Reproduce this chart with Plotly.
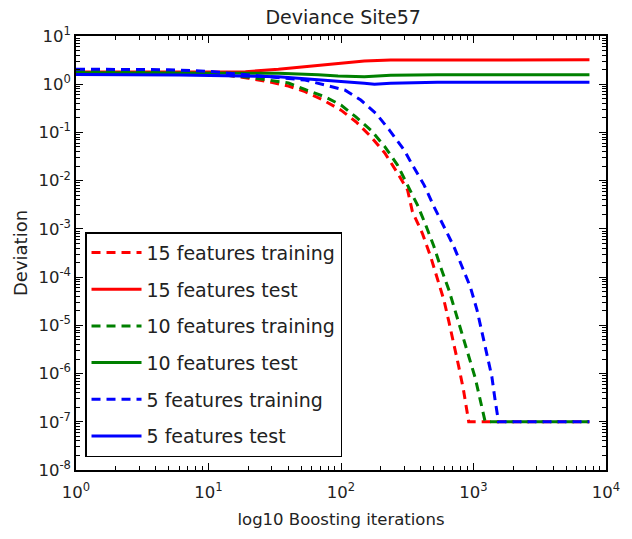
import plotly.graph_objects as go

# ---------------- data ----------------
red_train_x = [1, 5, 10, 14.2, 20.1, 28.4, 40.1, 53.5, 73.3, 100, 129.5, 168, 214, 267, 318, 346, 411, 475, 533, 598, 652, 711, 774, 840, 894, 920, 7500]
red_train_y = [1.95, 1.9, 1.75, 1.55, 1.33, 1.13, 0.92, 0.70, 0.47, 0.29, 0.167, 0.082, 0.0375, 0.0144, 0.0064, 0.00227, 0.00081, 0.000265, 9.4e-5, 3.35e-5, 1.19e-5, 4.2e-6, 1.39e-6, 4.6e-7, 1.5e-7, 1e-7, 1e-7]

red_test_x = [1, 6, 19, 33.7, 47.6, 67.3, 100, 150, 237, 533, 7500]
red_test_y = [1.8, 1.8, 1.82, 2.04, 2.24, 2.5, 2.8, 3.03, 3.18, 3.2, 3.2]

green_train_x = [1, 5, 10, 20, 28.4, 40.1, 54.7, 75.5, 100, 129.5, 168, 214, 267, 318, 378, 436, 503, 564, 652, 731, 820, 920, 1032, 1125, 1225, 7500]
green_train_y = [1.82, 1.8, 1.65, 1.4, 1.22, 1.06, 0.76, 0.55, 0.37, 0.21, 0.112, 0.051, 0.0211, 0.0081, 0.0031, 0.0012, 0.00043, 0.000164, 5.4e-5, 1.9e-5, 6.8e-6, 2.4e-6, 8.0e-7, 2.8e-7, 1e-7, 1e-7]

green_test_x = [1, 10, 19, 33.7, 67.3, 95, 150, 237, 533, 7500]
green_test_y = [1.72, 1.7, 1.68, 1.68, 1.57, 1.48, 1.43, 1.53, 1.57, 1.57]

blue_train_x = [1, 5, 10, 14.2, 28.4, 53.5, 75.5, 106.6, 141, 183, 232, 300, 346, 424, 503, 598, 711, 820, 946, 1063, 1158, 1262, 1376, 1456, 1545, 7500]
blue_train_y = [2.05, 2.0, 1.85, 1.68, 1.43, 1.22, 0.96, 0.76, 0.47, 0.25, 0.112, 0.043, 0.0211, 0.0081, 0.0029, 0.00111, 0.00043, 0.000164, 6.3e-5, 2.08e-5, 7.4e-6, 2.4e-6, 8.6e-7, 2.8e-7, 1e-7, 1e-7]

blue_test_x = [1, 6, 33.7, 67.3, 106, 150, 179, 237, 533, 7500]
blue_test_y = [1.6, 1.55, 1.43, 1.26, 1.13, 1.045, 0.995, 1.045, 1.10, 1.10]

series_names = ["15 features training", "15 features test",
                "10 features training", "10 features test",
                "5 features training", "5 features test"]

x_tickvals = [1, 10, 100, 1000, 10000]
x_ticktext = ["10<sup>0</sup>", "10<sup>1</sup>", "10<sup>2</sup>", "10<sup>3</sup>", "10<sup>4</sup>"]
y_tickvals = [1e1, 1e0, 1e-1, 1e-2, 1e-3, 1e-4, 1e-5, 1e-6, 1e-7, 1e-8]
y_ticktext = ["10<sup>1</sup>", "10<sup>0</sup>", "10<sup>-1</sup>", "10<sup>-2</sup>", "10<sup>-3</sup>",
              "10<sup>-4</sup>", "10<sup>-5</sup>", "10<sup>-6</sup>", "10<sup>-7</sup>", "10<sup>-8</sup>"]

# ---------------- figure ----------------
FONT = "DejaVu Sans"
DASH = "9px,6px"
LW = 3

fig = go.Figure()
specs = [
    (red_train_x, red_train_y, "#ff0000", DASH),
    (red_test_x, red_test_y, "#ff0000", "solid"),
    (green_train_x, green_train_y, "#008000", DASH),
    (green_test_x, green_test_y, "#008000", "solid"),
    (blue_train_x, blue_train_y, "#0000ff", DASH),
    (blue_test_x, blue_test_y, "#0000ff", "solid"),
]
for i, (xs, ys, col, dash) in enumerate(specs):
    fig.add_trace(go.Scatter(
        x=xs, y=ys, mode="lines", name=series_names[i],
        legendgroup=f"g{i}",
        line=dict(color=col, width=LW, dash=dash),
    ))

axis_common = dict(
    showline=True, linecolor="black", linewidth=1.5, mirror="allticks",
    ticks="inside", ticklen=7, tickwidth=1, tickcolor="black",
    showgrid=False, zeroline=False,
    tickfont=dict(family=FONT, size=16.5, color="#222222"),
)

fig.update_xaxes(type="log", range=[0, 4], tickvals=x_tickvals, ticktext=x_ticktext,
                 ticklabelstandoff=6,
                 title=dict(text="log10 Boosting iterations", font=dict(family=FONT, size=16.5, color="#222222"), standoff=13),
                 minor=dict(ticks="inside", ticklen=4, tickcolor="black", dtick="D1", showgrid=False),
                 **axis_common)
fig.update_yaxes(type="log", range=[-8, 1], tickvals=y_tickvals, ticktext=y_ticktext,
                 title=dict(text="Deviation", font=dict(family=FONT, size=18, color="#222222"), standoff=6),
                 minor=dict(ticks="inside", ticklen=4, tickcolor="black", dtick="D1", showgrid=False),
                 **axis_common)

fig.update_layout(
    width=632, height=539,
    margin=dict(l=76, r=22, t=36, b=69),
    paper_bgcolor="white", plot_bgcolor="white",
    title=dict(text="Deviance Site57", x=0.543, xanchor="center", y=0.967, yanchor="middle",
               font=dict(family=FONT, size=19, color="#222222")),
    legend=dict(x=0.017, y=0.548, xanchor="left", yanchor="top",
                bgcolor="white", bordercolor="black", borderwidth=1.5,
                font=dict(family=FONT, size=19, color="#222222"),
                traceorder="grouped", tracegroupgap=9, itemwidth=50),
    showlegend=True,
)

fig.write_html("out.html")
